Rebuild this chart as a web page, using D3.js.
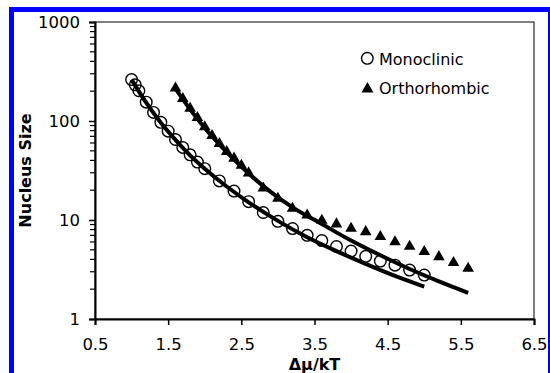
<!DOCTYPE html>
<html>
<head>
<meta charset="utf-8">
<script src="https://cdn.jsdelivr.net/npm/d3@7"></script>
<style>
  html, body { margin: 0; padding: 0; background: #fff; }
  svg { display: block; }
  text { font-family: "DejaVu Sans", Verdana, sans-serif; fill: #000; }
</style>
</head>
<body>
<svg id="chart" width="550" height="373"></svg>
<script>
// Monoclinic nuclei (open circles)
const monoX = [1.0, 1.05, 1.1, 1.2, 1.3, 1.4, 1.5, 1.6, 1.7, 1.8, 1.9, 2.0, 2.2, 2.4, 2.6, 2.8, 3.0, 3.2, 3.4, 3.6, 3.8, 4.0, 4.2, 4.4, 4.6, 4.8, 5.0];
const monoY = [262, 232, 202, 155, 122, 97, 79, 65, 54, 45.5, 38.5, 33, 24.8, 19.6, 15.3, 11.9, 9.7, 8.2, 7.0, 6.2, 5.4, 4.85, 4.3, 3.85, 3.5, 3.12, 2.78];

// Orthorhombic nuclei (filled triangles)
const orthoX = [1.6, 1.7, 1.8, 1.9, 2.0, 2.1, 2.2, 2.3, 2.4, 2.5, 2.6, 2.8, 3.0, 3.2, 3.4, 3.6, 3.8, 4.0, 4.2, 4.4, 4.6, 4.8, 5.0, 5.2, 5.4, 5.6];
const orthoY = [215, 168, 134, 108, 87, 71, 59, 49, 42, 35.5, 29.8, 21, 16.5, 13.1, 11.2, 9.9, 9.1, 8.2, 7.6, 6.8, 6.0, 5.4, 4.8, 4.25, 3.7, 3.25];

// Fitted curves
const monoFitX = [1.0, 1.2, 1.4, 1.6, 1.8, 2.0, 2.3, 2.6, 3.0, 3.4, 3.8, 4.2, 4.6, 5.0];
const monoFitY = [262, 153, 96, 64.5, 45, 33, 21.8, 15.1, 9.8, 6.7, 4.85, 3.6, 2.72, 2.12];
const orthoFitX = [1.6, 1.8, 2.0, 2.3, 2.6, 2.9, 3.2, 3.6, 4.0, 4.4, 4.8, 5.2, 5.6];
const orthoFitY = [212, 131, 85, 48.5, 29.5, 19.2, 13.4, 9.1, 6.2, 4.4, 3.2, 2.4, 1.84];

// Axis ticks
const xTicks = [0.5, 1.5, 2.5, 3.5, 4.5, 5.5, 6.5];
const yTicks = [1, 10, 100, 1000];
const yMinor = [2,3,4,5,6,7,8,9,20,30,40,50,60,70,80,90,200,300,400,500,600,700,800,900];

const legendLabels = ["Monoclinic", "Orthorhombic"];

const svg = d3.select("#chart");
const plot = { left: 95, right: 534, top: 22, bottom: 319 };

const x = d3.scaleLinear().domain([0.5, 6.5]).range([plot.left, plot.right]);
const y = d3.scaleLog().domain([1, 1000]).range([plot.bottom, plot.top]);

// Blue outer frame
svg.append("rect")
  .attr("x", 11.5).attr("y", 9.5)
  .attr("width", 539).attr("height", 420)
  .attr("fill", "#fff")
  .attr("stroke", "#0000ff").attr("stroke-width", 5);

// Plot-area frame
svg.append("rect")
  .attr("x", plot.left).attr("y", plot.top)
  .attr("width", plot.right - plot.left).attr("height", plot.bottom - plot.top)
  .attr("fill", "none").attr("stroke", "#000").attr("stroke-width", 1);

// X axis
const xAxis = d3.axisBottom(x).tickValues(xTicks).tickFormat(d3.format(".1f"))
  .tickSize(6).tickPadding(13);
const gx = svg.append("g").attr("transform", `translate(0,${plot.bottom})`).call(xAxis);
gx.select(".domain").attr("stroke-width", 2);
gx.selectAll(".tick line").attr("stroke-width", 1.5);
gx.selectAll(".tick text").style("font-size", "16.5px").attr("font-family", "DejaVu Sans");

// Y axis (major ticks with labels)
const yAxis = d3.axisLeft(y).tickValues(yTicks).tickFormat(d3.format("d"))
  .tickSize(6).tickPadding(9);
const gy = svg.append("g").attr("transform", `translate(${plot.left},0)`).call(yAxis);
gy.select(".domain").attr("stroke-width", 2);
gy.selectAll(".tick line").attr("stroke-width", 1.5);
gy.selectAll(".tick text").style("font-size", "16.5px").attr("font-family", "DejaVu Sans");

// Y minor ticks
svg.append("g").selectAll("line").data(yMinor).join("line")
  .attr("x1", plot.left - 5).attr("x2", plot.left)
  .attr("y1", d => y(d)).attr("y2", d => y(d))
  .attr("stroke", "#000").attr("stroke-width", 1.2);

// Axis titles
svg.append("text")
  .attr("x", (plot.left + plot.right) / 2).attr("y", 370)
  .attr("text-anchor", "middle")
  .style("font-size", "16px").style("font-weight", "bold")
  .text("Δμ/kT");

svg.append("text")
  .attr("transform", `translate(31,${(plot.top + plot.bottom) / 2}) rotate(-90)`)
  .attr("text-anchor", "middle")
  .style("font-size", "16px").style("font-weight", "bold")
  .text("Nucleus Size");

// Data markers
const mono = monoX.map((v, i) => [v, monoY[i]]);
const ortho = orthoX.map((v, i) => [v, orthoY[i]]);
const monoFit = monoFitX.map((v, i) => [v, monoFitY[i]]);
const orthoFit = orthoFitX.map((v, i) => [v, orthoFitY[i]]);

svg.append("g").selectAll("circle").data(mono).join("circle")
  .attr("cx", d => x(d[0])).attr("cy", d => y(d[1])).attr("r", 5.8)
  .attr("fill", "none").attr("stroke", "#000").attr("stroke-width", 1.4);

const tri = d3.symbol().type(d3.symbolTriangle).size(58);
svg.append("g").selectAll("path").data(ortho).join("path")
  .attr("d", tri)
  .attr("transform", d => `translate(${x(d[0])},${y(d[1])})`)
  .attr("fill", "#000");

// Fitted lines
const line = d3.line().x(d => x(d[0])).y(d => y(d[1])).curve(d3.curveMonotoneX);
[monoFit, orthoFit].forEach(pts => {
  svg.append("path").datum(pts).attr("d", line)
    .attr("fill", "none").attr("stroke", "#000").attr("stroke-width", 4);
});

// Legend
const lg = svg.append("g");
lg.append("circle").attr("cx", 367.3).attr("cy", 58.3).attr("r", 5.8)
  .attr("fill", "none").attr("stroke", "#000").attr("stroke-width", 1.4);
lg.append("path").attr("d", d3.symbol().type(d3.symbolTriangle).size(62))
  .attr("transform", "translate(367.5,89)").attr("fill", "#000");
lg.selectAll("text").data(legendLabels).join("text")
  .attr("x", 379).attr("y", (d, i) => 64.5 + i * 29.5)
  .style("font-size", "16px")
  .text(d => d);
</script>
</body>
</html>
